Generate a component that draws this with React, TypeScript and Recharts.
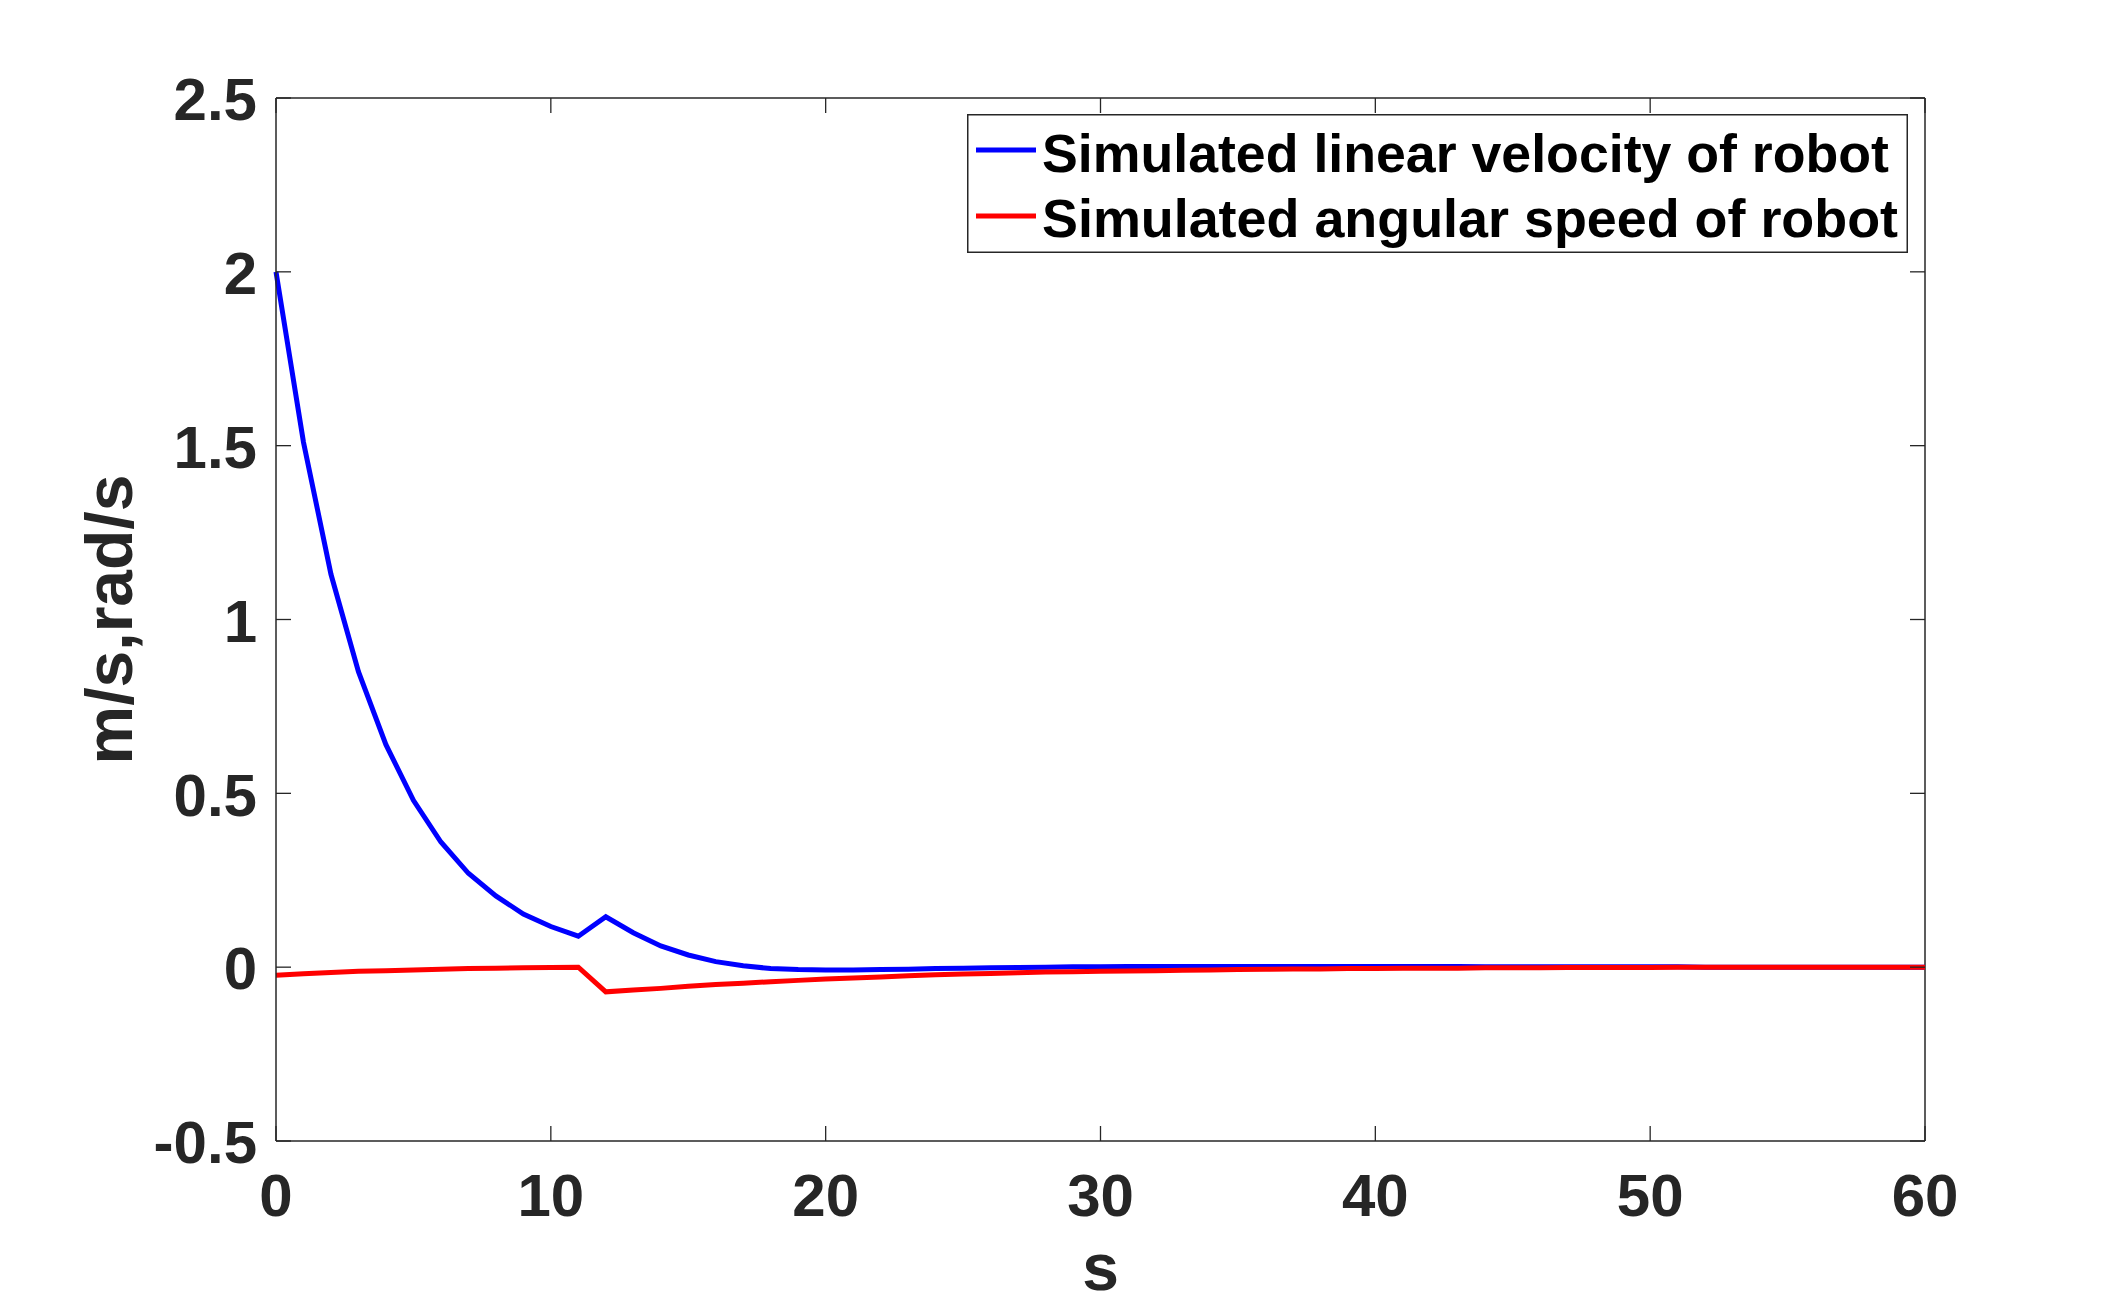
import { Legend, Line, LineChart, ReferenceLine, XAxis, YAxis } from "recharts"

// time in seconds, one sample per second
const TIME = [
  0, 1, 2, 3, 4, 5, 6, 7, 8, 9, 10, 11, 12, 13, 14, 15, 16, 17, 18, 19, 20,
  21, 22, 23, 24, 25, 26, 27, 28, 29, 30, 31, 32, 33, 34, 35, 36, 37, 38, 39,
  40, 41, 42, 43, 44, 45, 46, 47, 48, 49, 50, 51, 52, 53, 54, 55, 56, 57, 58,
  59, 60,
]

const LINEAR_VELOCITY = [
  2.0, 1.51, 1.13, 0.85, 0.64, 0.48, 0.36, 0.27, 0.205, 0.153, 0.117, 0.089,
  0.145, 0.099, 0.061, 0.035, 0.016, 0.004, -0.004, -0.007, -0.008,
  -0.008, -0.007, -0.006, -0.004, -0.003, -0.002, -0.001, 0, 0.001, 0.001,
  0.002, 0.002, 0.002, 0.002, 0.002, 0.002, 0.002, 0.002, 0.002, 0.002, 0.002,
  0.002, 0.002, 0.001, 0.001, 0.001, 0.001, 0.001, 0.001, 0.001, 0.001,
  0, 0, 0, 0, 0, 0, 0, 0, 0,
]

const ANGULAR_SPEED = [
  -0.023, -0.019, -0.015, -0.012, -0.01, -0.008, -0.006, -0.004, -0.003,
  -0.002, -0.001, 0,
  -0.071, -0.066, -0.061, -0.055, -0.05, -0.046, -0.042, -0.038, -0.034,
  -0.031, -0.028, -0.025, -0.022, -0.02, -0.018, -0.016, -0.014, -0.013,
  -0.012, -0.011, -0.01, -0.009, -0.008, -0.007, -0.006, -0.005, -0.005,
  -0.004, -0.004, -0.003, -0.003, -0.003, -0.002, -0.002, -0.002, -0.001,
  -0.001, -0.001, -0.001,
  0, 0, 0, 0, 0, 0, 0, 0, 0, 0,
]

const X_TICKS = [0, 10, 20, 30, 40, 50, 60]
const Y_TICKS = [-0.5, 0, 0.5, 1, 1.5, 2, 2.5]

const SERIES = [
  { key: "linear", name: "Simulated linear velocity of robot", color: "#0000ff", textWidth: 847 },
  { key: "angular", name: "Simulated angular speed of robot", color: "#ff0000", textWidth: 856 },
]

const data = TIME.map((t, i) => ({
  t,
  linear: LINEAR_VELOCITY[i],
  angular: ANGULAR_SPEED[i],
}))

// layout (chart pixels)
const CHART_W = 2110
const CHART_H = 1296
const MARGIN = { top: 90, right: 193, left: 0, bottom: 0 }
const Y_AXIS_W = 268
const X_AXIS_H = 163
const PLOT_TOP = MARGIN.top
const PLOT_BOTTOM = CHART_H - X_AXIS_H
const PLOT_LEFT = Y_AXIS_W
const PLOT_RIGHT = CHART_W - MARGIN.right

const FONT = '"Liberation Sans", Arial, Helvetica, sans-serif'
const INK = "#262626"
const TICK_LEN = 15

// MATLAB-style ticks: pointing inwards on all four sides of the box
function XTick({ payload }: any) {
  const x = payload.coordinate
  return (
    <g>
      <line x1={x} y1={PLOT_BOTTOM} x2={x} y2={PLOT_BOTTOM - TICK_LEN} stroke={INK} strokeWidth={1.3} />
      <line x1={x} y1={PLOT_TOP} x2={x} y2={PLOT_TOP + TICK_LEN} stroke={INK} strokeWidth={1.3} />
      <text x={x} y={PLOT_BOTTOM + 75} textAnchor="middle" fontFamily={FONT} fontWeight="bold" fontSize={60} fill={INK}>
        {payload.value}
      </text>
    </g>
  )
}

function YTick({ payload }: any) {
  const y = payload.coordinate
  return (
    <g>
      <line x1={PLOT_LEFT} y1={y} x2={PLOT_LEFT + TICK_LEN} y2={y} stroke={INK} strokeWidth={1.3} />
      <line x1={PLOT_RIGHT} y1={y} x2={PLOT_RIGHT - TICK_LEN} y2={y} stroke={INK} strokeWidth={1.3} />
      <text x={PLOT_LEFT - 19} y={y} dy="0.37em" textAnchor="end" fontFamily={FONT} fontWeight="bold" fontSize={60} fill={INK}>
        {payload.value}
      </text>
    </g>
  )
}

function XTitle({ viewBox }: any) {
  const cx = viewBox.x + viewBox.width / 2
  return (
    <text x={cx} y={PLOT_BOTTOM + 149} textAnchor="middle" fontFamily={FONT} fontWeight="bold" fontSize={66} fill={INK}>
      s
    </text>
  )
}

function YTitle({ viewBox }: any) {
  const cy = viewBox.y + viewBox.height / 2
  return (
    <text
      x={124}
      y={cy}
      transform={`rotate(-90, 124, ${cy})`}
      textAnchor="middle"
      fontFamily={FONT}
      fontWeight="bold"
      fontSize={66}
      fill={INK}
    >
      m/s,rad/s
    </text>
  )
}

function BoxLegend() {
  return (
    <svg width={941} height={139} style={{ display: "block" }}>
      <rect x={0.75} y={0.75} width={939.5} height={137.5} fill="#ffffff" stroke={INK} strokeWidth={1.5} />
      {SERIES.map((s, i) => (
        <g key={s.key}>
          <line x1={9} x2={69} y1={36 + i * 66} y2={36 + i * 66} stroke={s.color} strokeWidth={5} />
          <text
            x={75}
            y={58 + i * 65}
            fontFamily={FONT}
            fontWeight="bold"
            fontSize={54}
            fill="#000000"
            textLength={s.textWidth}
            lengthAdjust="spacingAndGlyphs"
          >
            {s.name}
          </text>
        </g>
      ))}
    </svg>
  )
}

export default function App() {
  return (
    <LineChart width={CHART_W} height={CHART_H} data={data} margin={MARGIN}>
      <XAxis
        dataKey="t"
        type="number"
        domain={[0, 60]}
        ticks={X_TICKS}
        interval={0}
        height={X_AXIS_H}
        tickSize={0}
        tickLine={false}
        tick={<XTick />}
        axisLine={{ stroke: INK, strokeWidth: 1.5 }}
        label={<XTitle />}
      />
      <YAxis
        type="number"
        domain={[-0.5, 2.5]}
        ticks={Y_TICKS}
        interval={0}
        width={Y_AXIS_W}
        tickSize={0}
        tickLine={false}
        tick={<YTick />}
        axisLine={{ stroke: INK, strokeWidth: 1.5 }}
        label={<YTitle />}
      />
      {/* top and right edges of the axes box */}
      <ReferenceLine y={2.5} stroke={INK} strokeWidth={1.5} />
      <ReferenceLine x={60} stroke={INK} strokeWidth={1.5} />
      <Legend
        layout="vertical"
        align="center"
        verticalAlign="middle"
        content={() => <BoxLegend />}
        wrapperStyle={{ left: 959, top: 106, width: 941, height: 139 }}
      />
      <Line
        dataKey="linear"
        name={SERIES[0].name}
        stroke={SERIES[0].color}
        strokeWidth={5}
        dot={false}
        activeDot={false}
        isAnimationActive={false}
      />
      <Line
        dataKey="angular"
        name={SERIES[1].name}
        stroke={SERIES[1].color}
        strokeWidth={5}
        dot={false}
        activeDot={false}
        isAnimationActive={false}
      />
    </LineChart>
  )
}
